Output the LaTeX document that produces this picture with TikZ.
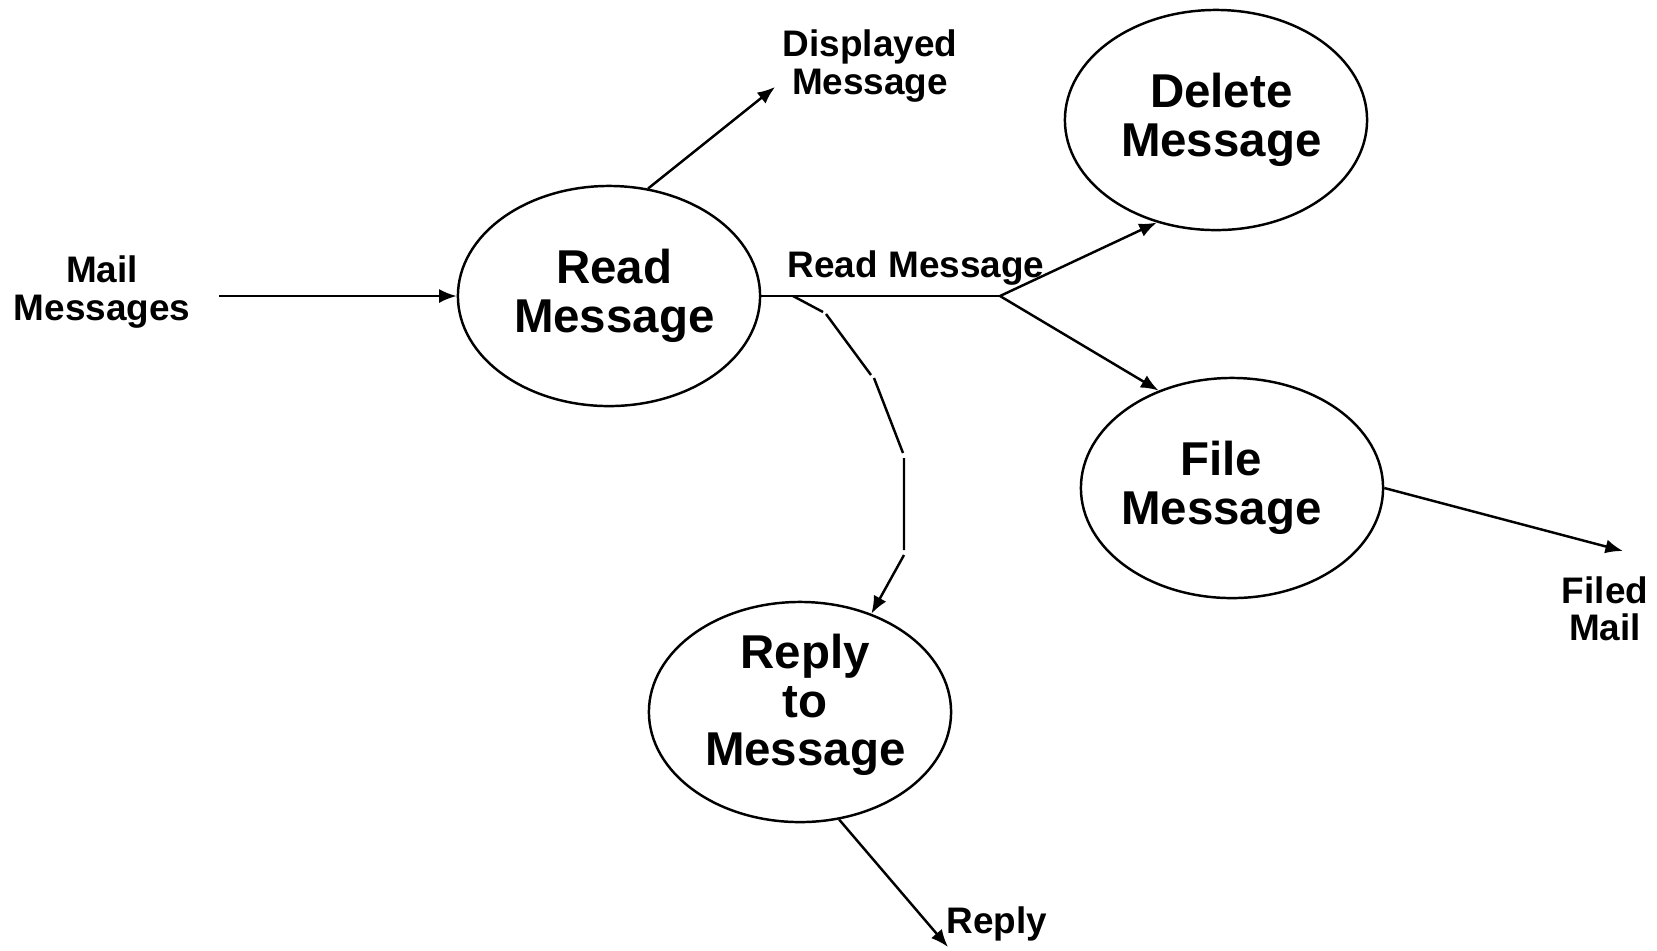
\documentclass[tikz,border=0pt]{standalone}
\usepackage{fontspec}
\setmainfont{Liberation Sans}
\usetikzlibrary{shapes.geometric,arrows.meta}
\setlength{\lineskiplimit}{-10pt}
\begin{document}
\begin{tikzpicture}[x=0.01cm,y=-0.01cm,line width=0.7pt,
    >={Latex[length=5pt,width=4pt]},
    proc/.style={draw,ellipse,minimum width=3.02cm,minimum height=2.2cm,inner sep=0pt},
    title/.style={inner sep=0pt,align=center,
      font=\bfseries\fontsize{13.5}{13.8}\selectfont},
    flow/.style={inner sep=0pt,align=center,
      font=\bfseries\fontsize{10.5}{10.6}\selectfont}]
    \useasboundingbox (0,0) rectangle (1657,950);
    % processes
    \node [proc] (read) at (609,296) {};
    \node [proc] (del) at (1216,120) {};
    \node [proc] (file) at (1232,488) {};
    \node [proc] (reply) at (800,712) {};
    \node [title] (readtxt) at ([xshift=1.5pt]read.center) {Read\\Message};
    \node [title] (deltxt) at ([xshift=1.5pt]del.center) {Delete\\Message};
    \node [title] (filetxt) at ([xshift=-3pt]file.center) {File\\Message};
    \node [title] (replytxt) at ([xshift=1.5pt,yshift=2pt]reply.center) {Reply\\to\\Message};
    % data flows
    \node [flow] (mail) at (102,292) {Mail\\Messages};
    \node [flow] (disp) at (870,66) {Displayed\\Message};
    \node [flow] (filed) at (1605,609) {Filed\\Mail};
    \node [flow] (out) at (997,924) {Reply};
    \node [flow,anchor=base] (rmlabel) at (916,277) {Read Message};
    \coordinate (mailend) at (219,296);
    \coordinate (dispend) at (775,87);
    \coordinate (split) at (1000,296);
    \coordinate (fork) at (793,296);
    \coordinate (filedend) at (1623,551);
    \coordinate (outend) at (948,947);
    \draw [->] (mailend) -- (read.west);
    \draw [->] (read.70) -- (dispend);
    \draw (read.east) -- (split);
    \draw [->] (split) -- (del.240);
    \draw [->] (split) -- (file.127);
    \draw [->] (file.east) -- (filedend);
    \draw [->] (reply.290) -- (outend);
    \draw [->] (fork) -- (823,312) (826,314) -- (871,375) (874,378) -- (903,453)
      (904,458) -- (904,550) (904,555) -- (reply.54);
\end{tikzpicture}
\end{document}
